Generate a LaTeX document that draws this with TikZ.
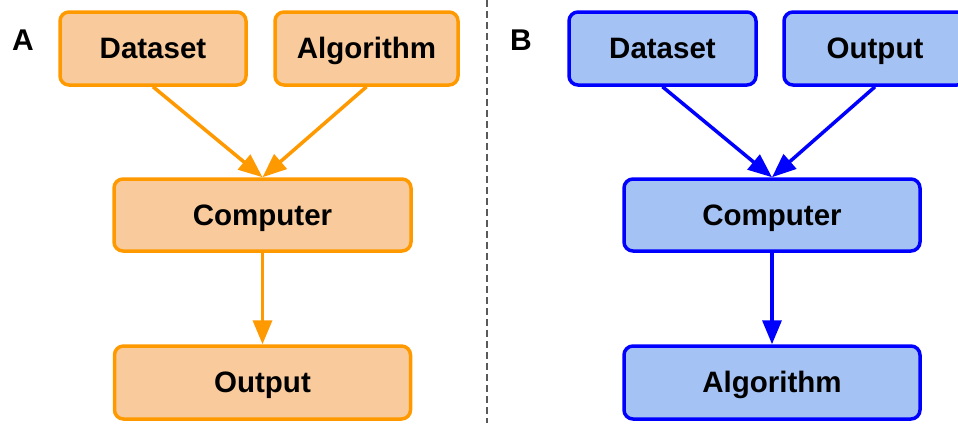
\documentclass[tikz,border=0pt]{standalone}
\usepackage{fontspec}
\setmainfont{Liberation Sans}
\usetikzlibrary{arrows.meta}
\definecolor{ostroke}{HTML}{FF9900}
\definecolor{ofill}{HTML}{F9CB9C}
\definecolor{bstroke}{HTML}{0000FF}
\definecolor{bfill}{HTML}{A4C2F4}
\tikzset{
  box/.style={rectangle, rounded corners=9pt, line width=3.5pt, minimum height=73pt, inner sep=0pt, text height=21pt, text depth=1pt, font=\fontsize{29.5}{32}\selectfont\bfseries},
  obox/.style={box, draw=ostroke, fill=ofill},
  bbox/.style={box, draw=bstroke, fill=bfill},
  arr/.style={line width=3.5pt, -{Triangle[length=24pt,width=19pt]}},
  oarr/.style={arr, draw=ostroke, fill=ostroke},
  barr/.style={arr, draw=bstroke, fill=bstroke},
  panel/.style={font=\fontsize{30}{32}\selectfont\bfseries}
}
\begin{document}
\begin{tikzpicture}[x=1pt,y=-1pt]
\useasboundingbox (0,0) rectangle (958,423);
\clip (0,0) rectangle (958,423);
\fill[white] (0,0) rectangle (958,423);
% panel labels
\node[panel] (la) at (23,40) {A};
\node[panel] (lb) at (521,40) {B};
% divider
\coordinate (dtop) at (487,0);
\coordinate (dbot) at (487,423);
\draw[gray!70!black, line width=1.2pt, dash pattern=on 7pt off 4pt] (dtop) -- (dbot);
% left panel
\node[obox, minimum width=186pt] (ld) at (153,48.5) {Dataset};
\node[obox, minimum width=183pt] (la2) at (366.5,48.5) {Algorithm};
\node[obox, minimum width=297pt, minimum height=72pt] (lc) at (262.5,215) {Computer};
\node[obox, minimum width=296pt] (lo) at (262.5,382.5) {Output};
\draw[oarr] (ld.south) -- (lc.north);
\draw[oarr] (la2.south) -- (lc.north);
\draw[oarr] (lc.south) -- (lo.north);
% right panel
\node[bbox, minimum width=187pt] (rd) at (662.5,48.5) {Dataset};
\node[bbox, minimum width=182pt] (ro) at (875,48.5) {Output};
\node[bbox, minimum width=296pt, minimum height=72pt] (rc) at (772,215) {Computer};
\node[bbox, minimum width=296pt] (ra) at (772,382.5) {Algorithm};
\draw[barr] (rd.south) -- (rc.north);
\draw[barr] (ro.south) -- (rc.north);
\draw[barr] (rc.south) -- (ra.north);
\end{tikzpicture}
\end{document}
